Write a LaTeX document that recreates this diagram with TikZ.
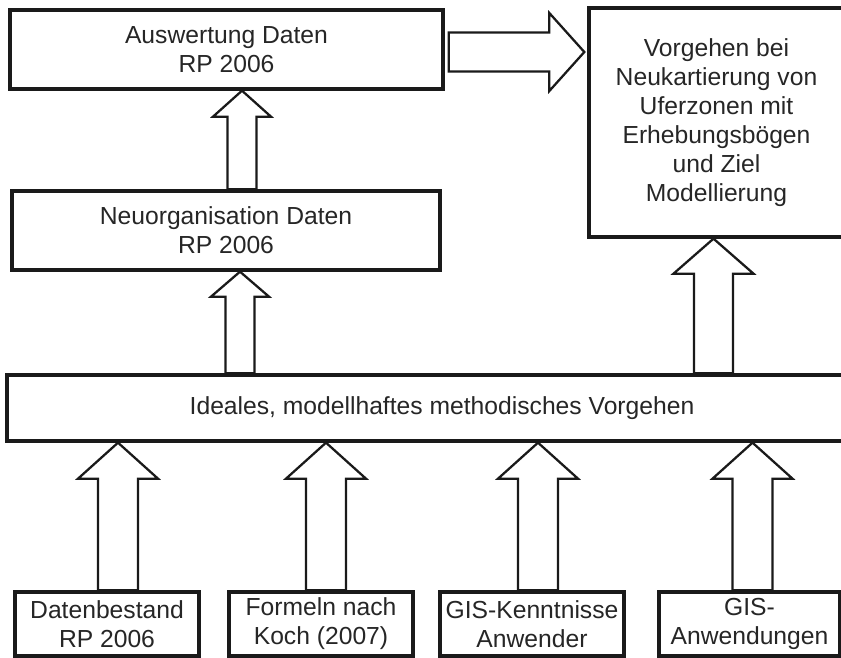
\documentclass[tikz,border=0pt]{standalone}
\usepackage{fontspec}
\setmainfont{Liberation Sans}
\usetikzlibrary{calc}
\definecolor{ink}{HTML}{1A1A1A}
\definecolor{txt}{HTML}{262626}
\tikzset{
  box/.style={draw=ink, line width=2.5pt, fill=white, align=center, inner sep=0pt,
    text=txt, font=\fontsize{18.5}{21.8}\selectfont},
  barrow/.style={draw=ink, line width=1.7pt, fill=white, line join=miter},
}
\newcommand\blockup[6]{%
  \coordinate (bxc) at (#3,0);
  \coordinate (bt) at (#1.south -| bxc);
  \coordinate (bb) at (#2.north -| bxc);
  \draw[barrow] (bt) -- ++(#4,#6) -- ++(#5-#4,0) -- ($(bb)+(#5,0)$) -- ($(bb)+(-#5,0)$)
     -- ($(bt)+(-#5,#6)$) -- ++(#5-#4,0) -- cycle;}
\begin{document}
\begin{tikzpicture}[x=0.75pt,y=-0.75pt]
\useasboundingbox (0,0) rectangle (841,657);
\fill[white] (0,0) rectangle (841,657);
% boxes
\node[box, minimum width=433*0.75pt, minimum height=79*0.75pt] (ausw) at (226.5,49.5) {Auswertung Daten\\RP 2006};
\node[box, minimum width=428*0.75pt, minimum height=79*0.75pt] (neuorg) at (226,230.5) {Neuorganisation Daten\\RP 2006};
\node[box, minimum width=255*0.75pt, minimum height=229*0.75pt] (vorg) at (716.5,122.5) {Vorgehen bei\\Neukartierung von\\Uferzonen mit\\Erhebungsbögen\\und Ziel\\Modellierung};
\node[box, minimum width=870*0.75pt, minimum height=66*0.75pt] (ideal) at (442,408) {Ideales, modellhaftes methodisches Vorgehen};
\node[box, minimum width=184*0.75pt, minimum height=64*0.75pt] (b1) at (107,624) {Datenbestand\\RP 2006};
\node[box, minimum width=184*0.75pt, minimum height=64*0.75pt] (b2) at (321,624) {Formeln nach\\Koch (2007)};
\node[box, minimum width=184*0.75pt, minimum height=64*0.75pt] (b3) at (532,624) {GIS-Kenntnisse\\Anwender};
\node[box, minimum width=181*0.75pt, minimum height=64*0.75pt] (b4) at (749.5,624) {GIS-\\Anwendungen};
% block arrows
\blockup{ausw}{neuorg}{242}{29}{14.5}{26}
\blockup{neuorg}{ideal}{240}{29}{14.5}{25}
\blockup{vorg}{ideal}{713.5}{40}{19.5}{35}
\blockup{ideal}{b1}{118}{40}{20}{36}
\blockup{ideal}{b2}{326}{40}{20}{36}
\blockup{ideal}{b3}{538}{40}{20}{36}
\blockup{ideal}{b4}{752.5}{40}{20}{36}
% horizontal arrow
\coordinate (hy) at (0,52);
\coordinate (htip) at ($(vorg.west |- hy)+(-3,0)$);
\coordinate (htail) at ($(ausw.east |- hy)+(4,0)$);
\draw[barrow] (htip) -- ++(-35,-39) -- ++(0,19.5) -- ($(htail)+(0,-19.5)$) -- ($(htail)+(0,19.5)$)
  -- ($(htip)+(-35,19.5)$) -- ++(0,19.5) -- cycle;
\end{tikzpicture}
\end{document}
